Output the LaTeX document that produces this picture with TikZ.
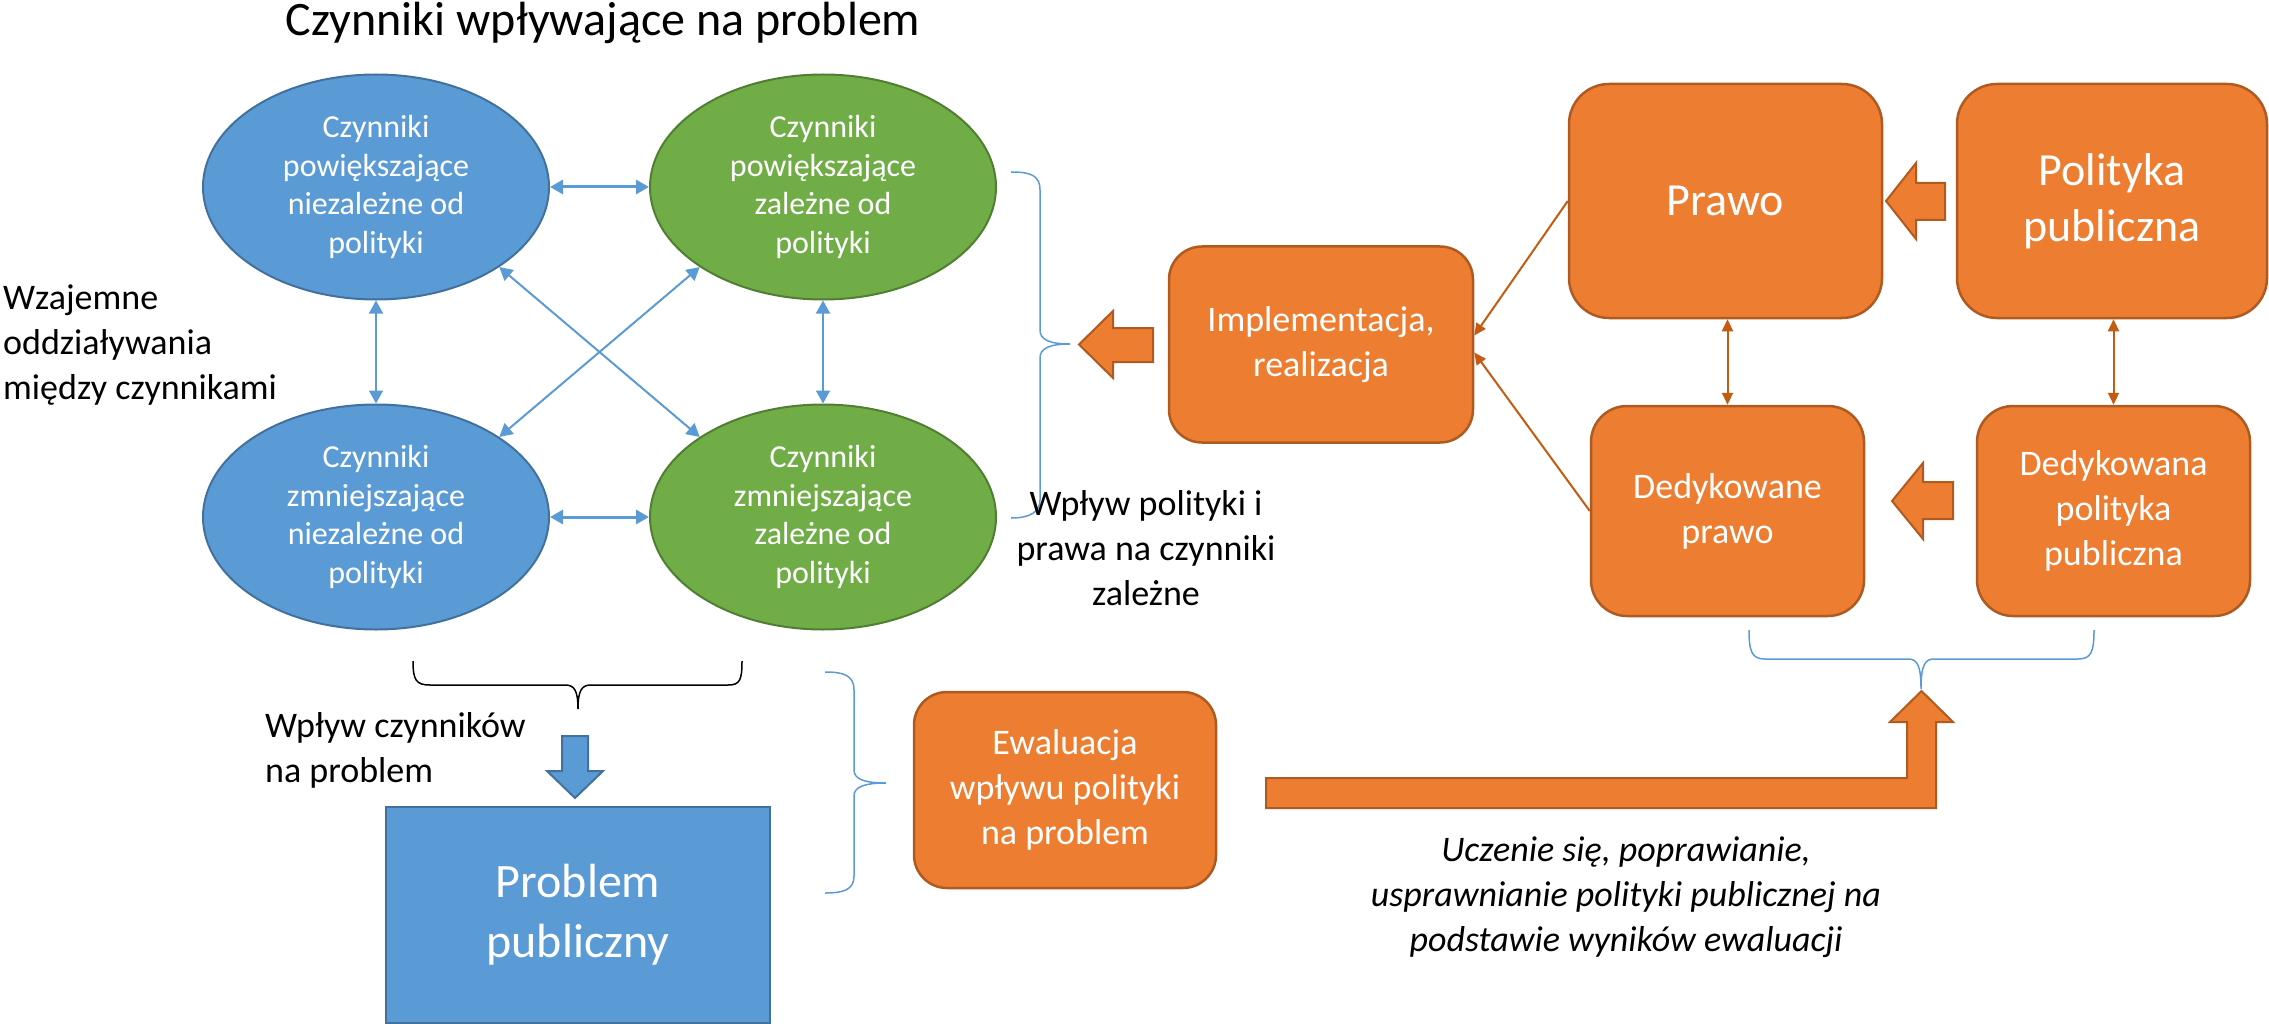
\documentclass[tikz,border=0pt]{standalone}
\usepackage{fontspec}
\setmainfont{Carlito}
\usetikzlibrary{arrows.meta,shapes.geometric}
\definecolor{cblue}{HTML}{5B9BD5}
\definecolor{cblueD}{HTML}{41719C}
\definecolor{cgreen}{HTML}{70AD47}
\definecolor{cgreenD}{HTML}{507E32}
\definecolor{corange}{HTML}{ED7D31}
\definecolor{corangeD}{HTML}{AE5A21}
\definecolor{cbrown}{HTML}{C55A11}
\begin{document}
\begin{tikzpicture}[x=1pt,y=-1pt,
  blueell/.style={ellipse, fill=cblue, draw=cblueD, line width=2pt, minimum width=346pt, minimum height=225pt, inner sep=0pt, text=white, align=center, font=\fontsize{32}{38.5}\selectfont},
  greenell/.style={blueell, fill=cgreen, draw=cgreenD},
  obox/.style={rectangle, fill=corange, draw=corangeD, line width=2.5pt, text=white, align=center, inner sep=0pt, font=\fontsize{36}{45}\selectfont},
  bigtxt/.style={font=\fontsize{46}{56}\selectfont},
  plain/.style={text=black, font=\fontsize{36}{45}\selectfont, inner sep=0pt},
  barr/.style={{Triangle[length=13pt,width=14pt]}-{Triangle[length=13pt,width=14pt]}, draw=cblue, line width=2pt},
  brarr/.style={-{Triangle[length=12pt,width=11pt]}, draw=cbrown, line width=2pt},
  brdbl/.style={{Triangle[length=12pt,width=11pt]}-{Triangle[length=12pt,width=11pt]}, draw=cbrown, line width=2pt},
  blockarr/.style={fill=corange, draw=corangeD, line width=2pt, line join=miter},
  bluebrace/.style={draw=cblue, line width=1.5pt},
  blackbrace/.style={draw=black, line width=1.5pt}
]
\useasboundingbox (0,0) rectangle (2269,1024);

% title
\node[plain, font=\fontsize{48}{58}\selectfont, anchor=base] (title) at (603,36) {Czynniki wpływające na problem};

% ellipses
\node[blueell] (e1) at (376,187) {Czynniki\\powiększające\\niezależne od\\polityki};
\node[greenell] (e2) at (823,187) {Czynniki\\powiększające\\zależne od\\polityki};
\node[blueell] (e3) at (376,517) {Czynniki\\zmniejszające\\niezależne od\\polityki};
\node[greenell] (e4) at (823,517) {Czynniki\\zmniejszające\\zależne od\\polityki};

\draw[barr, line width=3pt] (e1) -- (e2);
\draw[barr, line width=3pt] (e3) -- (e4);
\draw[barr] (e1) -- (e3);
\draw[barr] (e2) -- (e4);
\draw[barr] (e1.-33) -- (e4.147);
\draw[barr] (e2.-147) -- (e3.33);

\node[plain, anchor=west, align=left] (wzaj) at (3,345) {Wzajemne\\oddziaływania\\między czynnikami};

% brace right of green ellipses
\draw[bluebrace] (1011,172) .. controls (1030,172) and (1040,175) .. (1040,190) -- (1040,330)
  .. controls (1040,340) and (1050,344) .. (1070,344) .. controls (1050,344) and (1040,348) .. (1040,358)
  -- (1040,500) .. controls (1040,512) and (1030,518) .. (1011,518);

\node[plain, align=center] (wplyw1) at (1146,548) {Wpływ polityki i\\prawa na czynniki\\zależne};

% block arrow left of implementation
\draw[blockarr] (1153,328) -- (1113,328) -- (1113,311) -- (1079,344.5) -- (1113,378) -- (1113,362) -- (1153,362) -- cycle;

% orange boxes
\node[obox, rounded corners=33pt, minimum width=304pt, minimum height=196pt] (impl) at (1321,344.5) {Implementacja,\\realizacja};
\node[obox, bigtxt, rounded corners=40pt, minimum width=313pt, minimum height=234pt] (prawo) at (1725.5,201) {Prawo};
\node[obox, bigtxt, rounded corners=40pt, minimum width=310pt, minimum height=234pt] (polit) at (2112,201) {Polityka\\publiczna};
\node[obox, rounded corners=36pt, minimum width=273pt, minimum height=210pt] (ded) at (1727.5,511) {Dedykowane\\prawo};
\node[obox, rounded corners=36pt, minimum width=273pt, minimum height=210pt] (dedpol) at (2113.5,511) {Dedykowana\\polityka\\publiczna};

\draw[blockarr] (1945,183) -- (1916,183) -- (1916,163) -- (1886,201) -- (1916,239) -- (1916,220) -- (1945,220) -- cycle;
\draw[blockarr] (1953,482) -- (1923,482) -- (1923,463) -- (1892,501) -- (1923,539) -- (1923,519) -- (1953,519) -- cycle;

\draw[brarr] (prawo.west) -- ([yshift=9pt]impl.east);
\draw[brarr] (ded.west) -- ([yshift=-8pt]impl.east);
\draw[brdbl] (prawo.south -| ded.north) -- (ded.north);
\draw[brdbl] (polit.south -| dedpol.north) -- (dedpol.north);

% black brace under ellipses
\draw[blackbrace] (413,661) .. controls (413,680) and (416,685) .. (430,685) -- (565,685)
  .. controls (574,685) and (578,690) .. (578,709) .. controls (578,690) and (582,685) .. (591,685)
  -- (728,685) .. controls (740,685) and (742,680) .. (742,661);

\node[plain, anchor=west, align=left] (wplyw2) at (265,750) {Wpływ czynników\\na problem};

% blue down arrow
\draw[fill=cblue, draw=cblueD, line width=2pt] (562,736) -- (588,736) -- (588,771) -- (603,771) -- (575,798) -- (547,771) -- (562,771) -- cycle;

\node[rectangle, fill=cblue, draw=cblueD, line width=2.5pt, text=white, align=center, inner sep=0pt,
  font=\fontsize{48}{60}\selectfont, minimum width=384pt, minimum height=216pt] (problem) at (578,915) {Problem\\publiczny};

% blue brace left of evaluation
\draw[bluebrace] (825,672) .. controls (843,672) and (854,675) .. (854,690) -- (854,770)
  .. controls (854,779) and (864,783) .. (886,783) .. controls (864,783) and (854,787) .. (854,796)
  -- (854,876) .. controls (854,890) and (843,893) .. (825,893);

\node[obox, rounded corners=33pt, minimum width=302pt, minimum height=196pt] (ewal) at (1065,790) {Ewaluacja\\wpływu polityki\\na problem};

% bent arrow
\draw[blockarr] (1266,778) -- (1907,778) -- (1907,722) -- (1890,722) -- (1921.5,691) -- (1953,722) -- (1936,722) -- (1936,808) -- (1266,808) -- cycle;

% blue brace under dedicated boxes
\draw[bluebrace] (1749,630) .. controls (1749,652) and (1752,659) .. (1765,659) -- (1908,659)
  .. controls (1917,659) and (1921,665) .. (1921,689) .. controls (1921,665) and (1925,659) .. (1934,659)
  -- (2078,659) .. controls (2091,659) and (2094,652) .. (2094,630);

\node[plain, align=center, font=\fontsize{36}{45}\itshape\selectfont] (learn) at (1626,897) {Uczenie się, poprawianie,\\usprawnianie polityki publicznej na\\podstawie wyników ewaluacji};
\end{tikzpicture}
\end{document}
